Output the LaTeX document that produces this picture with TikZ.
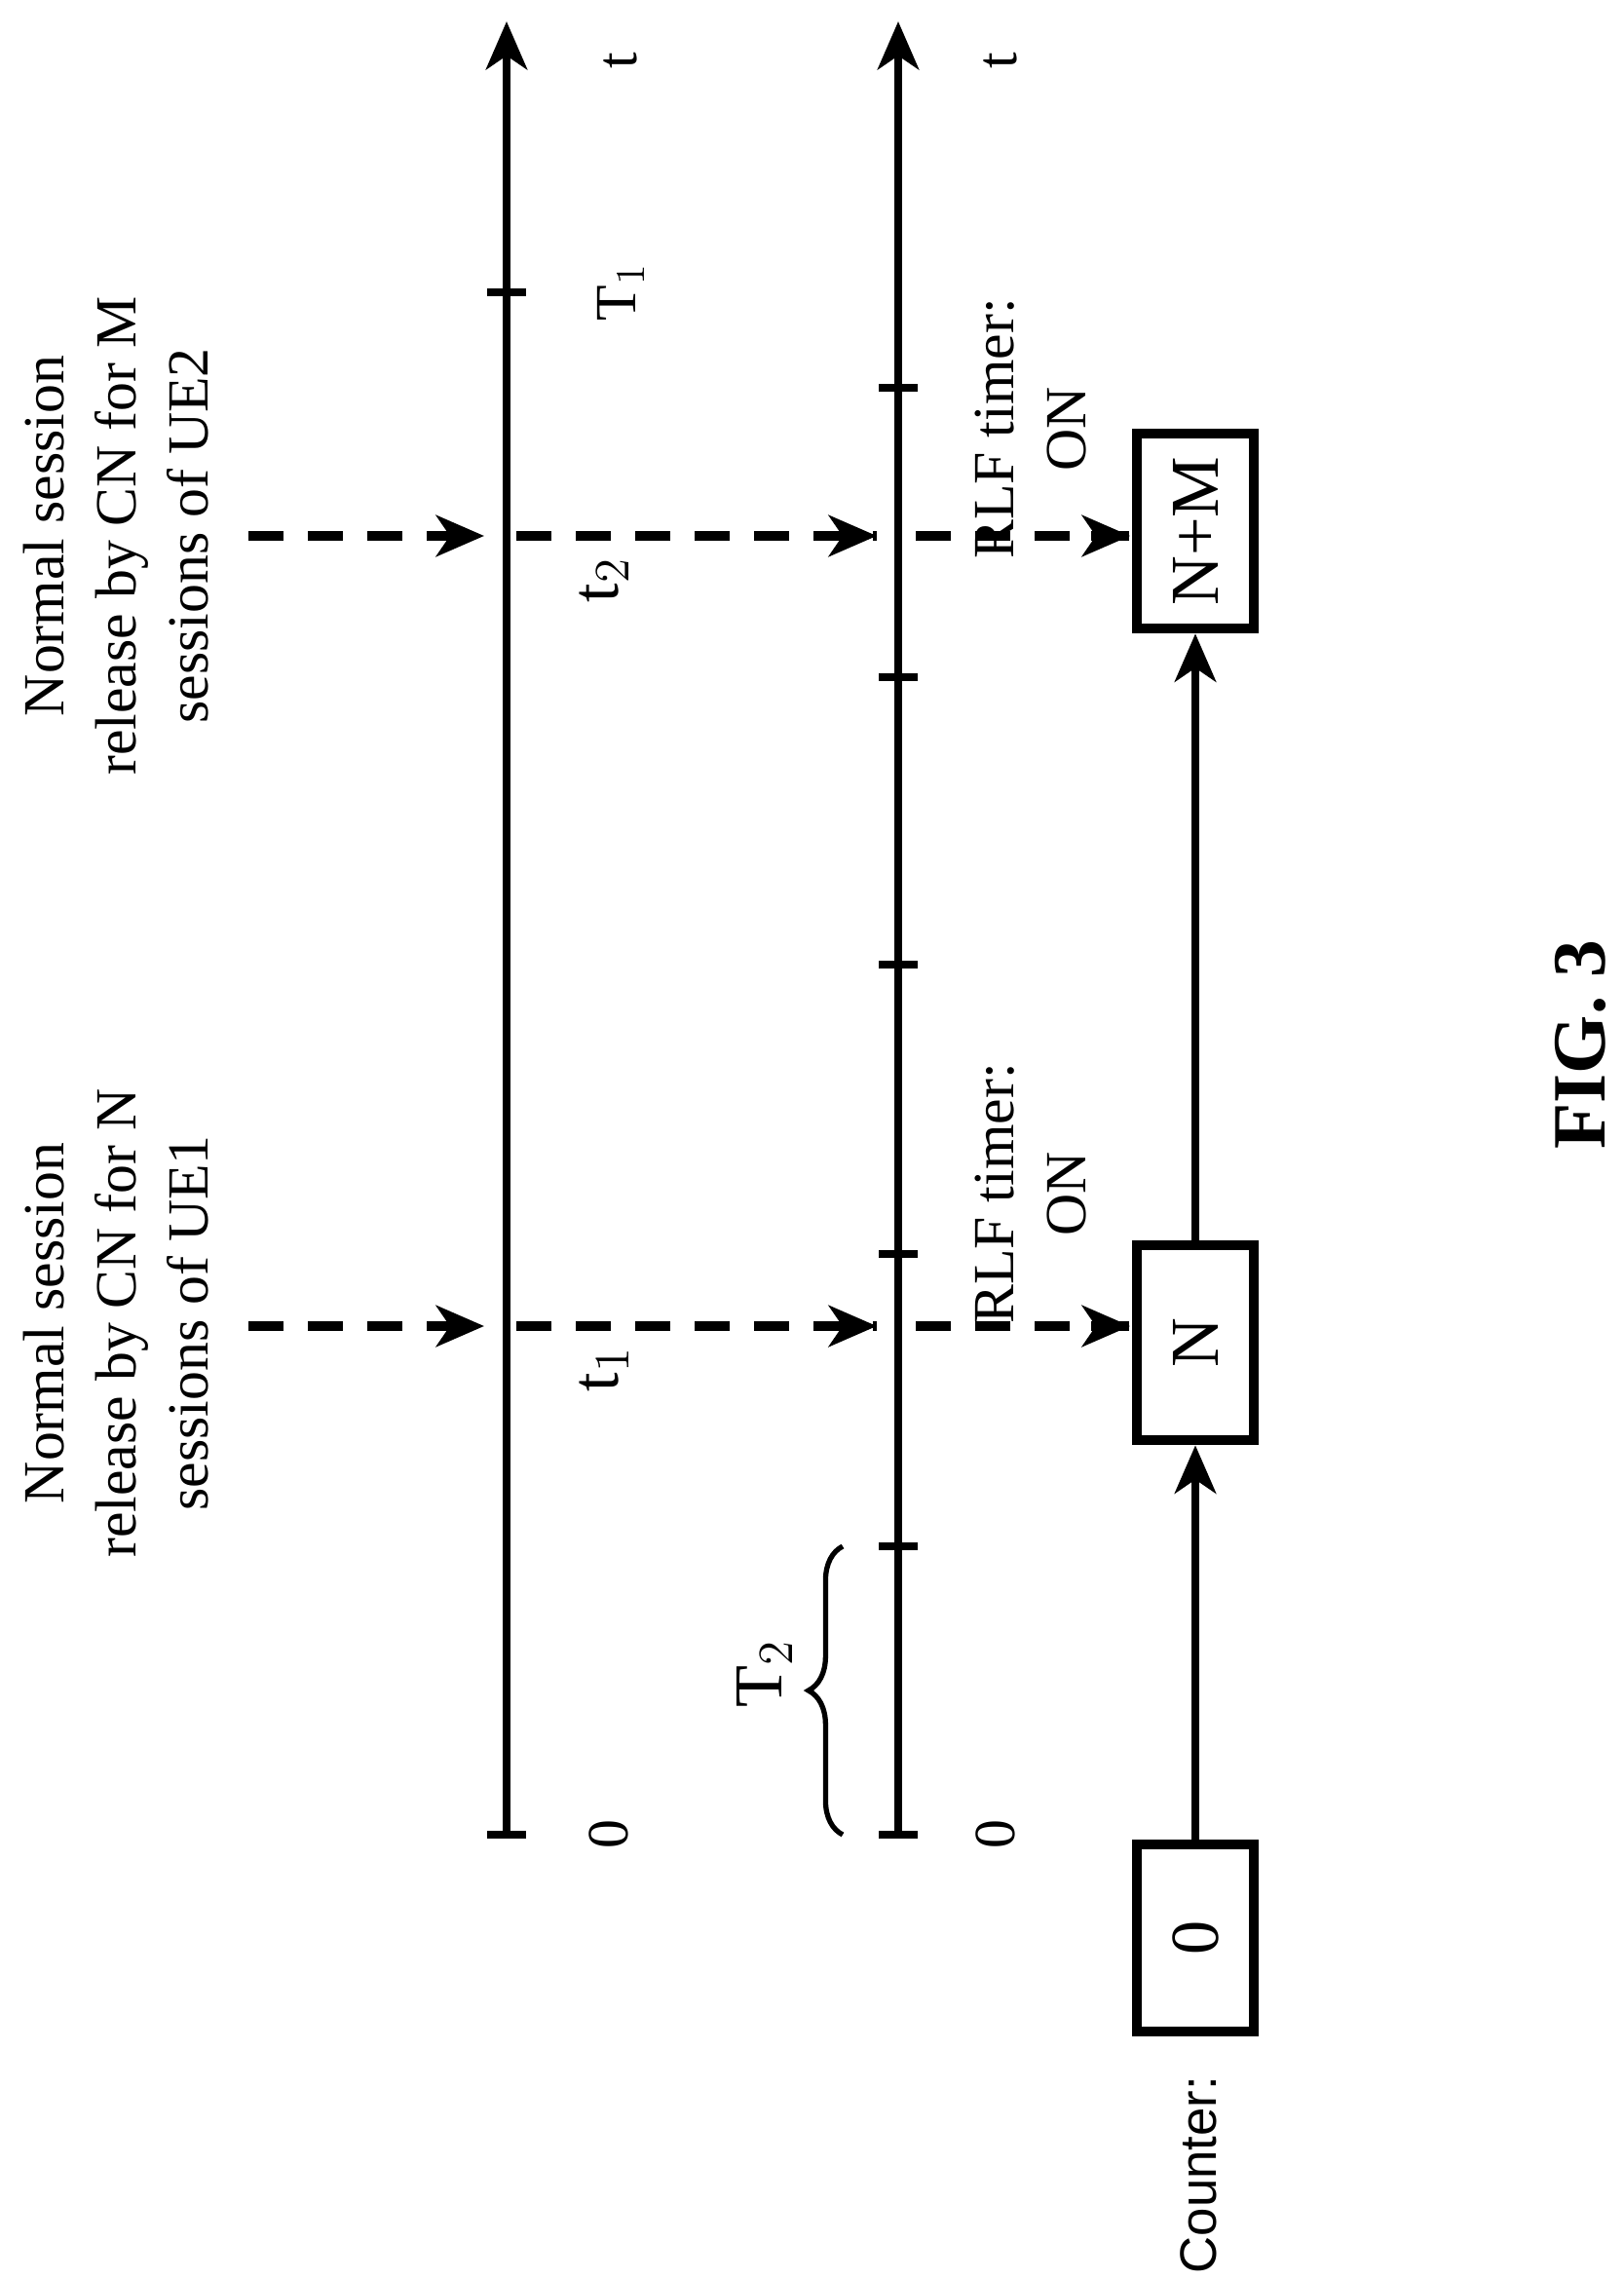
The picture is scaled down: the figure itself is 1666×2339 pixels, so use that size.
\documentclass[tikz,border=0pt]{standalone}
\usepackage{fontspec}
\setmainfont{Liberation Serif}
\newfontfamily\cntfont{Liberation Sans}
\usetikzlibrary{arrows.meta,decorations.pathreplacing}
\begin{document}
\begin{tikzpicture}[x=0.01cm,y=-0.01cm,
  ax/.style={line width=2.4pt},
  arr/.style={line width=2.4pt,-{Stealth[length=14pt,width=12pt,inset=4pt]}},
  dsh/.style={line width=2.6pt,dash pattern=on 0.36cm off 0.25cm},
  lbl/.style={rotate=90,font=\fontsize{17}{21}\selectfont,align=center,inner sep=0pt},
  box/.style={draw,line width=3pt,minimum height=1.2cm,inner sep=0pt,rotate=90,font=\fontsize{20}{24}\selectfont}]
\useasboundingbox (0,0) rectangle (1666,2339);
% axes
\coordinate (a1b) at (520,1883); \coordinate (a1t) at (520,22);
\coordinate (a2b) at (922,1883); \coordinate (a2t) at (922,22);
\draw[arr] (a1b) -- (a1t);
\draw[arr] (a2b) -- (a2t);
\foreach \y in {1883,300} \draw[ax] (500,\y) -- (540,\y);
\foreach \y in {1883,1587,1287,990,695,398} \draw[ax] (902,\y) -- (942,\y);
\node[lbl] (tA) at (637,62) {t};
\node[lbl] (tB) at (1027,62) {t};
\node[lbl] (zA) at (625,1883) {0};
\node[lbl] (zB) at (1022,1883) {0};
\node[lbl] (T1) at (637,300) {T$_1$};
\node[lbl,font=\fontsize{20}{24}\selectfont] (t1) at (620,1405) {t$_1$};
\node[lbl,font=\fontsize{20}{24}\selectfont] (t2) at (620,595) {t$_2$};
\draw[line width=1.5pt,decorate,decoration={brace,amplitude=10pt}] (865,1883) -- (865,1587);
\node[lbl,font=\fontsize{20}{24}\selectfont] (T2) at (785,1718) {T$_2$};
% boxes
\node[box,minimum width=1.92cm] (c0) at (1227,1989) {0};
\node[box,minimum width=2cm] (cN) at (1227,1378) {N};
\node[box,minimum width=2cm] (cNM) at (1227,545) {N+M};
\draw[arr] (c0.east) -- (cN.west);
\draw[arr] (cN.east) -- (cNM.west);
\node[lbl,font=\cntfont\fontsize{15}{18}\selectfont] (cnt) at (1230,2232) {Counter:};
% dashed arrows
\foreach \y/\n in {1361/a,550/b}{
  \coordinate (s\n) at (255,\y); \coordinate (e\n) at (497,\y);
  \coordinate (s2\n) at (530,\y); \coordinate (e2\n) at (900,\y);
  \coordinate (s3\n) at (940,\y); \coordinate (e3\n) at (1160,\y);
  \draw[dsh] (s\n) -- (e\n);
  \draw[dsh] (s2\n) -- (e2\n);
  \draw[dsh] (s3\n) -- (e3\n);
  \draw[line width=2.6pt,-{Stealth[length=14pt,width=12pt,inset=4pt]}] ([xshift=-0.4cm]e\n) -- (e\n);
  \draw[line width=2.6pt,-{Stealth[length=14pt,width=12pt,inset=4pt]}] ([xshift=-0.4cm]e2\n) -- (e2\n);
  \draw[line width=2.6pt,-{Stealth[length=14pt,width=12pt,inset=4pt]}] ([xshift=-0.4cm]e3\n) -- (e3\n);
}
\node[lbl] (d1) at (119,1358) {Normal session\\release by CN for N\\sessions of UE1};
\node[lbl] (d2) at (119,550) {Normal session\\release by CN for M\\sessions of UE2};
\node[lbl] (r1) at (1058,1225) {RLF timer:\\ON};
\node[lbl] (r2) at (1058,440) {RLF timer:\\ON};
\node[lbl,font=\fontsize{22}{26}\selectfont\bfseries] (fig) at (1622,1072) {FIG. 3};
\end{tikzpicture}
\end{document}
